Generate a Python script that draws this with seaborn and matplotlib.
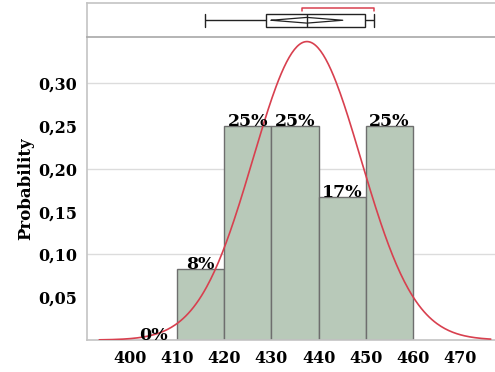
import numpy as np
import pandas as pd
import seaborn as sns
import matplotlib.pyplot as plt
from matplotlib.ticker import FixedLocator, FuncFormatter

# observations (12 values, read back from histogram + box plot)
values = [416, 424, 427, 429.5, 433, 436.5, 438.5, 443, 449.5, 450.5, 451, 451.8]
bin_edges = [400, 410, 420, 430, 440, 450, 460]
x_ticks = [400, 410, 420, 430, 440, 450, 460, 470]
y_ticks = [0, 0.05, 0.10, 0.15, 0.20, 0.25, 0.30, 0.35]
y_labeled = [0.05, 0.10, 0.15, 0.20, 0.25, 0.30]

BAR_FACE = '#b8c9b9'
BAR_EDGE = '#6e6e6e'
CURVE = '#d8404f'
SPINE = '#c4c4c4'
FONT = 'DejaVu Serif'

sns.set_style('white')
plt.rcParams['font.family'] = [FONT]
plt.rcParams['text.color'] = 'black'
plt.rcParams['axes.labelcolor'] = 'black'
plt.rcParams['xtick.labelcolor'] = 'black'
plt.rcParams['ytick.labelcolor'] = 'black'

data = pd.DataFrame({'value': values})
arr = np.array(values, dtype=float)
n = len(arr)
mu = arr.mean()
sd_pop = arr.std(ddof=0)
sd_s = arr.std(ddof=1)

fig = plt.figure(figsize=(4.95, 3.72), dpi=100)
ax = fig.add_axes([0.1758, 0.086, 0.8242, 0.8145])
ax_top = fig.add_axes([0.1758, 0.9005, 0.8242, 0.0901], sharex=ax)

# ---- histogram ----
sns.histplot(data=data, x='value', bins=bin_edges, stat='probability',
             color=BAR_FACE, edgecolor=BAR_EDGE, linewidth=1, alpha=1, ax=ax, zorder=2)

for p in ax.patches:
    h = p.get_height()
    ax.text(p.get_x() + p.get_width() / 2, h, f'{h * 100:.0f}%',
            ha='center', va='baseline', fontsize=12.5, fontweight='bold',
            family=FONT, color='black', zorder=5)

# ---- normal curve (scaled to bin width) ----
xs = np.linspace(393.5, 476.5, 300)
pdf = np.exp(-0.5 * ((xs - mu) / sd_pop) ** 2) / (sd_pop * np.sqrt(2 * np.pi)) * 10
sns.lineplot(x=xs, y=pdf, color=CURVE, linewidth=1.2, ax=ax, zorder=4)

ax.set_xlim(390.9, 477.4)
ax.set_ylim(0, 0.354)
ax.xaxis.set_major_locator(FixedLocator(x_ticks))
ax.yaxis.set_major_locator(FixedLocator(y_ticks))
ax.yaxis.set_major_formatter(FuncFormatter(
    lambda v, pos: f'{v:.2f}'.replace('.', ',') if any(abs(v - t) < 1e-9 for t in y_labeled) else ''))
ax.set_xlabel('')
ax.set_ylabel('Probability', fontsize=12, fontweight='bold', labelpad=3)
for lab in ax.get_xticklabels() + ax.get_yticklabels():
    lab.set_fontweight('bold')
    lab.set_fontsize(11.5)
ax.tick_params(axis='both', direction='out', length=4, width=1, color=SPINE, pad=3)
for yv in [0.10, 0.20, 0.30]:
    ax.axhline(yv, color='#dcdcdc', linewidth=1, zorder=0)
for s in ['top', 'right']:
    ax.spines[s].set_visible(False)
for s in ['left', 'bottom']:
    ax.spines[s].set_color(SPINE)
    ax.spines[s].set_linewidth(1.2)

# ---- outlier box plot panel ----
sns.boxplot(data=data, x='value', ax=ax_top, whis=(0, 100), width=0.4,
            color='white', linecolor='#222222', linewidth=1, showfliers=False)
# hide seaborn's short caps, draw caps as tall as the box
for ln in list(ax_top.lines):
    xd = np.asarray(ln.get_xdata(), dtype=float)
    yd = np.asarray(ln.get_ydata(), dtype=float)
    if len(xd) == 2 and abs(xd[0] - xd[1]) < 1e-6 and abs(yd[0] - yd[1]) > 0:
        if min(abs(xd[0] - arr.min()), abs(xd[0] - arr.max())) < 1e-6:
            ln.set_visible(False)
for xc in (arr.min(), arr.max()):
    ax_top.plot([xc, xc], [-0.2, 0.2], color='#222222', linewidth=1)
ax_top.set_ylim(0.5, -0.5)

# mean diamond (95% CI of the mean)
half_ci = 2.201 * sd_s / np.sqrt(n)
dh = 0.085
ax_top.plot([mu - half_ci, mu, mu + half_ci, mu, mu - half_ci],
            [0, -dh, 0, dh, 0], color='#222222', linewidth=0.9)

# shortest half bracket
srt = np.sort(arr)
k = n // 2 + 1
spans = [srt[i + k - 1] - srt[i] for i in range(n - k + 1)]
i0 = int(np.argmin(spans))
lo, hi = srt[i0], srt[i0 + k - 1]
ax_top.plot([lo, lo, hi, hi], [-0.28, -0.36, -0.36, -0.28], color=CURVE, linewidth=1.1)

ax_top.set_xlabel('')
ax_top.set_ylabel('')
ax_top.tick_params(left=False, bottom=False, labelleft=False, labelbottom=False)
ax_top.spines['right'].set_visible(False)
ax_top.spines['top'].set_color(SPINE)
ax_top.spines['left'].set_color(SPINE)
ax_top.spines['bottom'].set_color('#a8a8a8')
for s in ['top', 'left', 'bottom']:
    ax_top.spines[s].set_linewidth(1.2)

fig.savefig('out.png', dpi=100)
